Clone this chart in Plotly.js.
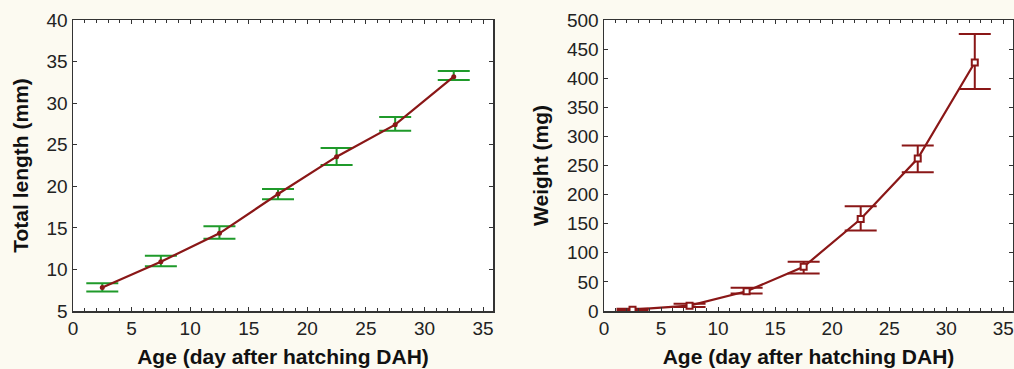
<!DOCTYPE html>
<html>
<head>
<meta charset="utf-8">
<script src="https://cdn.plot.ly/plotly-3.0.1.min.js"></script>
<style>html,body{margin:0;padding:0;background:#fcfaf1;}#chart{width:1014px;height:369px;}</style>
</head>
<body>
<div id="chart"></div>
<script>
// Age (days after hatching)
const age = [2.5, 7.5, 12.5, 17.5, 22.5, 27.5, 32.5];
// Total length (mm): mean, upper and lower error bar ends
const lengthMean = [7.84, 10.93, 14.34, 19.07, 23.56, 27.41, 33.18];
const lengthUpper = [8.33, 11.65, 15.18, 19.67, 24.60, 28.33, 33.87];
const lengthLower = [7.36, 10.37, 13.70, 18.43, 22.56, 26.69, 32.78];
// Weight (mg): mean, upper and lower error bar ends
const weightMean = [2.3, 9.2, 34, 76, 158, 262, 427];
const weightUpper = [4, 12.6, 40, 84.5, 180, 284.5, 476];
const weightLower = [0.5, 6.9, 30, 64.4, 138.5, 238.5, 381.6];
const xTicks = [0, 5, 10, 15, 20, 25, 30, 35];

const red = '#8a1717';
const green = '#1f9a2a';
const plus = (u, m) => u.map((v, i) => v - m[i]);
const minus = (l, m) => m.map((v, i) => v - l[i]);

const traces = [
  {
    x: age, y: lengthMean, xaxis: 'x', yaxis: 'y', type: 'scatter', mode: 'lines+markers',
    line: {color: red, width: 2.2},
    marker: {color: red, size: 5, symbol: 'circle'},
    error_y: {type: 'data', symmetric: false, array: plus(lengthUpper, lengthMean),
              arrayminus: minus(lengthLower, lengthMean), color: green, thickness: 2, width: 16},
    showlegend: false
  },
  {
    x: age, y: weightMean, xaxis: 'x2', yaxis: 'y2', type: 'scatter', mode: 'lines+markers',
    line: {color: red, width: 2.2},
    marker: {color: 'white', size: 6, symbol: 'square', line: {color: red, width: 2}},
    error_y: {type: 'data', symmetric: false, array: plus(weightUpper, weightMean),
              arrayminus: minus(weightLower, weightMean), color: red, thickness: 2, width: 16},
    showlegend: false
  }
];

const W = 1014, H = 369;
const ax = {
  showline: true, linecolor: '#333', linewidth: 1.5, mirror: 'ticks',
  ticks: 'inside', ticklen: 4, tickcolor: '#333', showgrid: false, zeroline: false,
  tickfont: {family: 'Liberation Sans, Arial, sans-serif', size: 19, color: '#222'}
};
const titleFont = {family: 'Liberation Sans, Arial, sans-serif', size: 21, color: '#111', weight: 'bold'};
const yDom = [1 - 311 / H, 1 - 20 / H];

const layout = {
  width: W, height: H,
  margin: {l: 0, r: 0, t: 0, b: 0},
  paper_bgcolor: '#fcfaf1', plot_bgcolor: '#ffffff',
  xaxis: Object.assign({}, ax, {
    domain: [73 / W, 493 / W], range: [0, 35.85], tickvals: xTicks, ticktext: xTicks.map(String),
    minor: {dtick: 1, ticks: 'inside', ticklen: 3, tickcolor: '#333'},
    title: {text: 'Age (day after hatching DAH)', font: titleFont, standoff: 11}, anchor: 'y'
  }),
  yaxis: Object.assign({}, ax, {
    domain: yDom, range: [5, 40], dtick: 5,
    title: {text: 'Total length (mm)', font: titleFont, standoff: 12}, anchor: 'x'
  }),
  xaxis2: Object.assign({}, ax, {
    domain: [604 / W, 1013 / W], range: [0, 35.85], tickvals: xTicks, ticktext: xTicks.map(String),
    minor: {dtick: 1, ticks: 'inside', ticklen: 3, tickcolor: '#333'},
    title: {text: 'Age (day after hatching DAH)', font: titleFont, standoff: 11}, anchor: 'y2'
  }),
  yaxis2: Object.assign({}, ax, {
    domain: yDom, range: [0, 500], dtick: 50,
    title: {text: 'Weight (mg)', font: titleFont, standoff: 12}, anchor: 'x2'
  })
};

Plotly.newPlot('chart', traces, layout, {displayModeBar: false, staticPlot: true});
</script>
</body>
</html>
